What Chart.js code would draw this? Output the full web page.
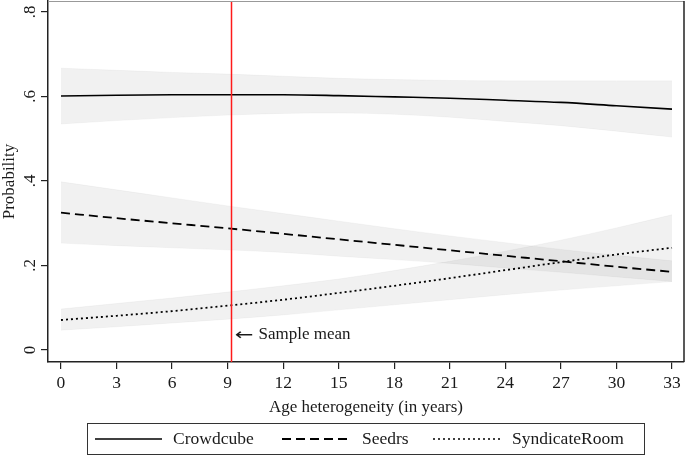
<!DOCTYPE html>
<html>
<head>
<meta charset="utf-8">
<script src="https://cdn.jsdelivr.net/npm/chart.js@4"></script>
<style>
  html, body { margin: 0; padding: 0; background: #fff; }
  canvas { display: block; }
</style>
</head>
<body>
<canvas id="myChart" width="685" height="456"></canvas>
<script>
const ageYears = [0, 3, 6, 9, 12, 15, 18, 21, 24, 27, 30, 33];

const crowdcube      = [0.601, 0.603, 0.604, 0.604, 0.604, 0.602, 0.599, 0.596, 0.591, 0.586, 0.578, 0.570];
const crowdcubeUpper = [0.667, 0.662, 0.657, 0.653, 0.648, 0.643, 0.640, 0.638, 0.637, 0.637, 0.637, 0.637];
const crowdcubeLower = [0.535, 0.543, 0.550, 0.556, 0.560, 0.561, 0.558, 0.551, 0.541, 0.531, 0.518, 0.504];

const seedrs      = [0.325, 0.312, 0.300, 0.288, 0.275, 0.262, 0.249, 0.236, 0.223, 0.210, 0.197, 0.185];
const seedrsUpper = [0.398, 0.379, 0.360, 0.341, 0.323, 0.305, 0.287, 0.270, 0.254, 0.238, 0.224, 0.211];
const seedrsLower = [0.253, 0.247, 0.242, 0.237, 0.231, 0.222, 0.214, 0.205, 0.194, 0.184, 0.173, 0.162];

const syndicate      = [0.071, 0.081, 0.092, 0.105, 0.119, 0.135, 0.152, 0.170, 0.189, 0.208, 0.226, 0.242];
const syndicateUpper = [0.097, 0.110, 0.123, 0.137, 0.152, 0.168, 0.188, 0.210, 0.234, 0.260, 0.289, 0.320];
const syndicateLower = [0.047, 0.055, 0.064, 0.073, 0.083, 0.095, 0.107, 0.119, 0.131, 0.142, 0.152, 0.162];

const xTicks = [0, 3, 6, 9, 12, 15, 18, 21, 24, 27, 30, 33];
const yTicks = [0, 0.2, 0.4, 0.6, 0.8];
const yTickLabels = ["0", ".2", ".4", ".6", ".8"];

const seriesNames = ["Crowdcube", "Seedrs", "SyndicateRoom"];
const sampleMean = 9.2;
const sampleMeanLabel = "Sample mean";

const serif = "'Liberation Serif', 'DejaVu Serif', serif";
const ink = "#1a1a1a";

function pts(ys) {
  return ys.map((y, i) => ({ x: ageYears[i], y: y }));
}

function lineSet(label, ys, dash, width) {
  return {
    label: label,
    data: pts(ys),
    borderColor: "#000",
    borderWidth: width,
    borderDash: dash,
    pointRadius: 0,
    fill: false,
    cubicInterpolationMode: "monotone",
    order: 0,
  };
}

function bandSet(ys, fill) {
  return {
    label: "",
    data: pts(ys),
    borderColor: "rgba(0,0,0,0.035)",
    borderWidth: 1,
    backgroundColor: "rgba(0,0,0,0.055)",
    pointRadius: 0,
    fill: fill,
    cubicInterpolationMode: "monotone",
    order: 1,
  };
}

const extras = {
  id: "extras",
  afterDatasetsDraw(chart) {
    const { ctx, chartArea, scales } = chart;
    const x = Math.round(scales.x.getPixelForValue(sampleMean)) + 0.5;
    ctx.save();
    ctx.strokeStyle = "#ff1a1a";
    ctx.lineWidth = 1.5;
    ctx.beginPath();
    ctx.moveTo(x, chartArea.top);
    ctx.lineTo(x, chartArea.bottom);
    ctx.stroke();

    // "← Sample mean"
    const ay = scales.y.getPixelForValue(0.036);
    ctx.fillStyle = ink;
    ctx.textBaseline = "middle";
    ctx.textAlign = "left";
    ctx.save();
    ctx.translate(x + 3, ay + 1);
    ctx.scale(1.4, 1);
    ctx.font = "16px 'DejaVu Sans', sans-serif";
    ctx.fillText("\u2190", 0, 0);
    ctx.restore();
    ctx.font = "17px " + serif;
    ctx.fillText(sampleMeanLabel, x + 27, ay);

    // plot region outline (top and right)
    ctx.strokeStyle = "#999";
    ctx.lineWidth = 1;
    ctx.beginPath();
    ctx.moveTo(chartArea.left, chartArea.top + 0.5);
    ctx.lineTo(chartArea.right, chartArea.top + 0.5);
    ctx.stroke();
    ctx.strokeStyle = "#222";
    ctx.lineWidth = 1.5;
    ctx.beginPath();
    ctx.moveTo(chartArea.right, chartArea.top);
    ctx.lineTo(chartArea.right, chartArea.bottom);
    ctx.stroke();

    // rotated y tick labels
    ctx.font = "17px " + serif;
    ctx.textAlign = "center";
    ctx.textBaseline = "middle";
    yTicks.forEach((v, i) => {
      const y = scales.y.getPixelForValue(v);
      ctx.save();
      ctx.translate(31, y);
      ctx.rotate(-Math.PI / 2);
      ctx.fillText(yTickLabels[i], 0, 0);
      ctx.restore();
    });

    // y axis title
    ctx.font = "17px " + serif;
    ctx.save();
    ctx.translate(10, (chartArea.top + chartArea.bottom) / 2);
    ctx.rotate(-Math.PI / 2);
    ctx.fillText("Probability", 0, 0);
    ctx.restore();

    // legend
    ctx.strokeStyle = "#333";
    ctx.lineWidth = 1;
    ctx.strokeRect(87.5, 423.5, 557, 31);
    const ly = 439;
    const keys = [
      { x0: 95, x1: 162, tx: 173, dash: [], w: 1.5 },
      { x0: 282, x1: 350, tx: 362, dash: [9, 5], w: 1.8 },
      { x0: 433, x1: 500, tx: 512, dash: [2, 3], w: 1.5 },
    ];
    ctx.textAlign = "left";
    ctx.font = "17.5px " + serif;
    keys.forEach((k, i) => {
      ctx.strokeStyle = "#000";
      ctx.lineWidth = k.w;
      ctx.setLineDash(k.dash);
      ctx.beginPath();
      ctx.moveTo(k.x0, ly);
      ctx.lineTo(k.x1, ly);
      ctx.stroke();
      ctx.setLineDash([]);
      ctx.fillText(seriesNames[i], k.tx, ly);
    });
    ctx.restore();
  },
};

const ctx = document.getElementById("myChart").getContext("2d");
const myChart = new Chart(ctx, {
  type: "line",
  data: {
    datasets: [
      lineSet(seriesNames[0], crowdcube, [], 1.6),
      lineSet(seriesNames[1], seedrs, [9, 5], 1.8),
      lineSet(seriesNames[2], syndicate, [2, 3], 1.8),
      bandSet(crowdcubeUpper, "+1"),
      bandSet(crowdcubeLower, false),
      bandSet(seedrsUpper, "+1"),
      bandSet(seedrsLower, false),
      bandSet(syndicateUpper, "+1"),
      bandSet(syndicateLower, false),
    ],
  },
  options: {
    responsive: false,
    animation: false,
    layout: { padding: { top: 1, right: 1, bottom: 38, left: 0 } },
    scales: {
      x: {
        type: "linear",
        min: -0.702,
        max: 33.648,
        afterBuildTicks: (scale) => {
          scale.ticks = xTicks.map((v) => ({ value: v }));
        },
        afterFit: (scale) => {
          scale.height = 56;
        },
        grid: { display: true, drawOnChartArea: false, drawTicks: true, tickLength: 7, color: "#222", lineWidth: 1.2 },
        border: { display: true, color: "#222", width: 1.5 },
        ticks: {
          color: ink,
          font: { family: serif, size: 17.5 },
          padding: 4,
          maxRotation: 0,
          autoSkip: false,
        },
        title: {
          display: true,
          text: "Age heterogeneity (in years)",
          color: ink,
          font: { family: serif, size: 17 },
          padding: { top: 0, bottom: 0 },
        },
      },
      y: {
        type: "linear",
        min: -0.0284,
        max: 0.826,
        afterBuildTicks: (scale) => {
          scale.ticks = yTicks.map((v) => ({ value: v }));
        },
        afterFit: (scale) => {
          scale.width = 48;
        },
        grid: { display: true, drawOnChartArea: false, drawTicks: true, tickLength: 7, color: "#222", lineWidth: 1.2 },
        border: { display: true, color: "#222", width: 1.5 },
        ticks: { display: false },
      },
    },
    plugins: {
      legend: { display: false },
      tooltip: { enabled: false },
    },
  },
  plugins: [extras],
});
</script>
</body>
</html>
